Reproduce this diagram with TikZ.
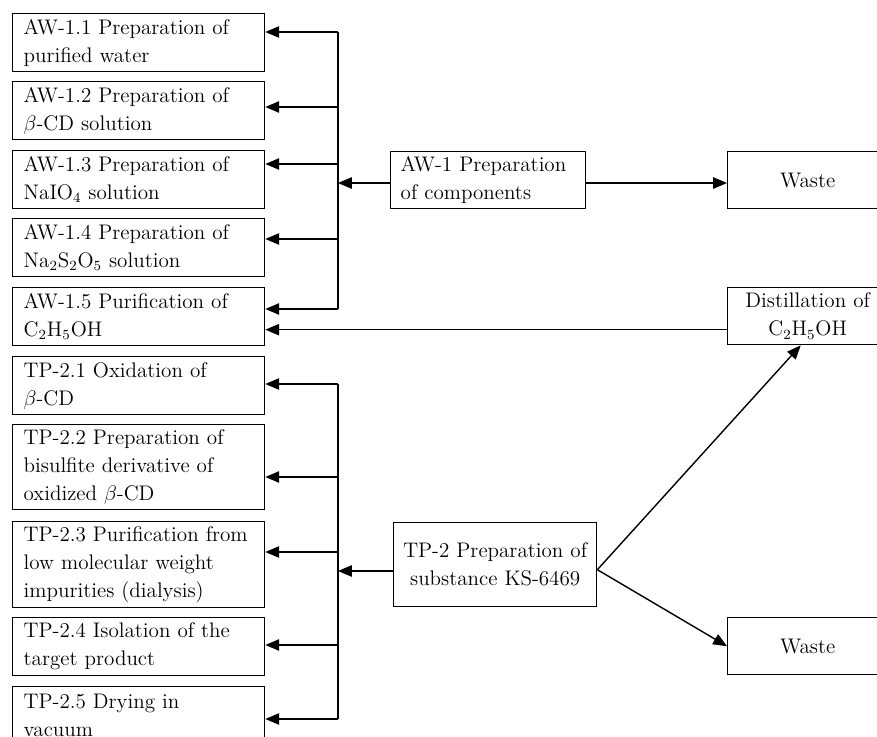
\documentclass[tikz,border=0pt]{standalone}
\usepackage{tikz}
\usetikzlibrary{arrows,positioning}
\tikzstyle{arrow} = [thick,->,>=triangle 45]
\tikzstyle{stagebox} = [draw, thick, anchor=north west, minimum height=1.16cm,
  text width=4.6cm, inner xsep=0.22cm, inner ysep=0.1cm, align=left,
  font=\fontsize{12}{15.9}\selectfont]
\tikzstyle{mainbox} = [draw, thick, anchor=north west, minimum height=1.14cm,
  inner ysep=0.1cm, font=\fontsize{12}{15.9}\selectfont]

\begin{document}
\begin{tikzpicture}[x=0.02cm, y=-0.02cm]
\useasboundingbox (0,0) rectangle (877,737);
\clip (0,0) rectangle (877,737);

% AW-1 stages
\node[stagebox] (a11) at (12,13) {AW-1.1 Preparation of\\purified water};
\node[stagebox] (a12) at (12,81) {AW-1.2 Preparation of\\$\beta$-CD solution};
\node[stagebox] (a13) at (12,150) {AW-1.3 Preparation of\\NaIO\textsubscript{4} solution};
\node[stagebox] (a14) at (12,218) {AW-1.4 Preparation of\\Na\textsubscript{2}S\textsubscript{2}O\textsubscript{5} solution};
\node[stagebox] (a15) at (12,287) {AW-1.5 Purification of\\C\textsubscript{2}H\textsubscript{5}OH};

% TP-2 stages
\node[stagebox] (t21) at (12,356) {TP-2.1 Oxidation of\\$\beta$-CD};
\node[stagebox, minimum height=1.7cm] (t22) at (12,424) {TP-2.2 Preparation of\\bisulfite derivative of\\oxidized $\beta$-CD};
\node[stagebox, minimum height=1.7cm] (t23) at (12,521) {TP-2.3 Purification from\\low molecular weight\\impurities (dialysis)};
\node[stagebox] (t24) at (12,617) {TP-2.4 Isolation of the\\target product};
\node[stagebox] (t25) at (12,686) {TP-2.5 Drying in\\vacuum};

% Main blocks
\node[mainbox, text width=3.5cm, inner xsep=0.2cm, align=left] (aw1) at (390,151) {AW-1 Preparation\\of components};
\node[mainbox, text width=3.8cm, inner xsep=0.13cm, minimum height=1.68cm, align=center] (tp2) at (393,522) {TP-2 Preparation of\\substance KS-6469};
\node[mainbox, text width=3cm, inner xsep=0.1cm, align=center] (waste1) at (727,151) {Waste};
\node[mainbox, text width=3cm, inner xsep=0.1cm, align=center] (distil) at (727,287) {Distillation of\\C\textsubscript{2}H\textsubscript{5}OH};
\node[mainbox, text width=3cm, inner xsep=0.1cm, align=center] (waste2) at (727,617) {Waste};

% Junctions on the buses
\coordinate (awbus) at (338,183);
\coordinate (tpbus) at (338,571);
\foreach \n/\y in {a11/32,a12/107,a13/164,a14/239,a15/309,t21/384,t22/477,t23/552,t24/645,t25/719}
  \coordinate (j\n) at (338,\y);

% AW-1 branch
\draw[thick] (ja11) -- (ja15);
\draw[arrow] (awbus -| aw1.west) -- (awbus);
\foreach \n in {a11,a12,a13,a14,a15}
  \draw[arrow] (j\n) -- (j\n -| \n.east);
\draw[arrow] (awbus -| aw1.east) -- (awbus -| waste1.west);
\draw[arrow] ([yshift=-0.27cm]distil.west) -- ([yshift=-0.27cm]distil.west -| a15.east);

% TP-2 branch
\draw[thick] (jt21) -- (jt25);
\draw[arrow] (tpbus -| tp2.west) -- (tpbus);
\foreach \n in {t21,t22,t23,t24,t25}
  \draw[arrow] (j\n) -- (j\n -| \n.east);
\draw[arrow] ([yshift=-0.1cm]tp2.east) -- ([xshift=-0.14cm]distil.south);
\draw[arrow] ([yshift=-0.1cm]tp2.east) -- (waste2.west);
\end{tikzpicture}
\end{document}
